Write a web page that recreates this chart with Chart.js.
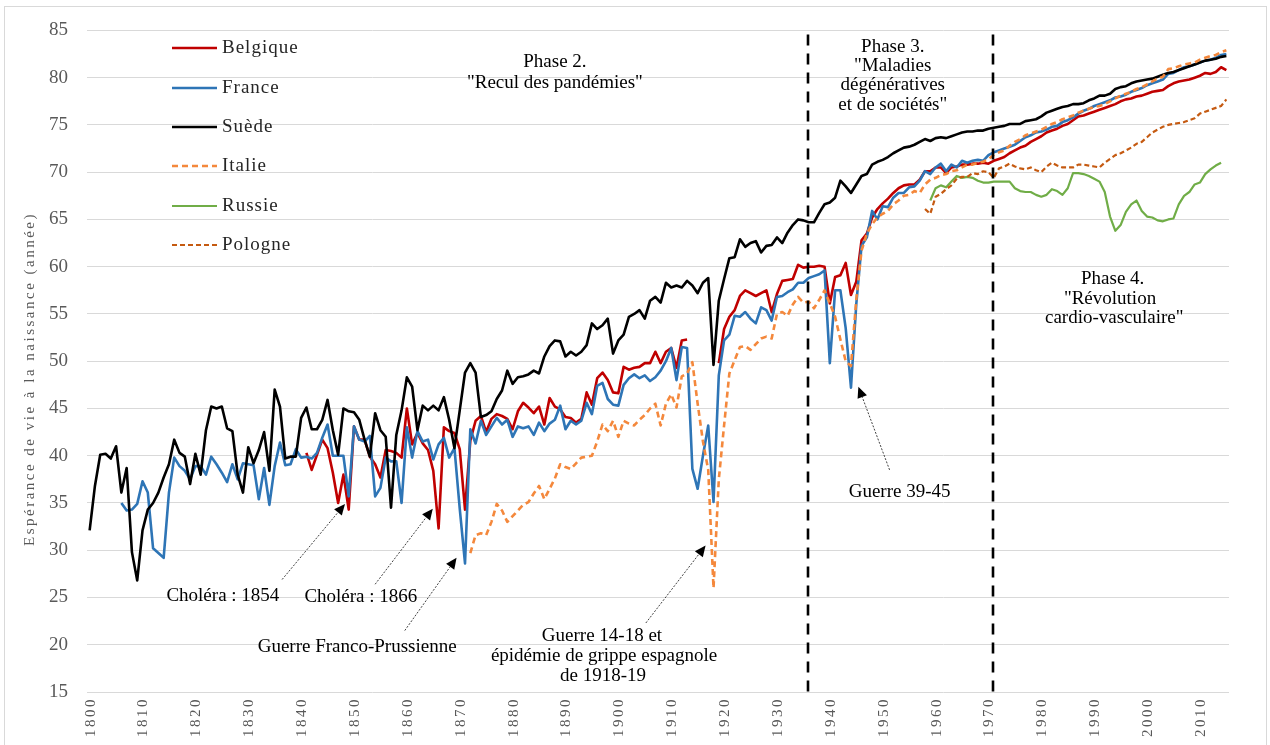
<!DOCTYPE html>
<html><head><meta charset="utf-8">
<script src="https://cdn.jsdelivr.net/npm/chart.js@4.4.1/dist/chart.umd.min.js"></script>
<style>html,body{margin:0;padding:0;background:#fff;}#wrap{width:1270px;height:745px;position:relative;}canvas{display:block;}</style>
</head><body><div id="wrap"><canvas id="c" width="1270" height="745"></canvas></div>
<script>
// ---------- DATA ----------
const decadeTicks = [1800,1810,1820,1830,1840,1850,1860,1870,1880,1890,1900,1910,1920,1930,1940,1950,1960,1970,1980,1990,2000,2010];
const phaseBoundaries = [1935.8, 1970.8];

const suedeStart = 1800;
const suede = [
32.1,36.8,40.1,40.2,39.7,41.0,36.1,38.7,29.8,26.8,
32.1,34.3,35.0,36.1,37.7,39.1,41.7,40.3,39.9,37.0,
40.2,38.0,42.7,45.2,45.0,45.2,42.9,42.6,38.0,36.1,
40.9,39.2,40.6,42.5,38.4,47.0,45.2,39.7,39.9,39.9,
44.0,45.1,42.8,42.8,43.8,45.9,42.7,40.1,45.0,44.7,
44.6,43.8,41.7,39.9,44.5,42.7,42.0,34.5,42.2,44.8,
48.3,47.3,42.7,45.3,44.8,45.3,44.8,46.2,43.8,40.8,
44.8,48.8,49.8,48.8,44.1,44.3,44.7,46.0,46.9,49.0,
47.6,48.3,48.4,48.6,49.0,48.7,50.5,51.6,52.2,52.1,
50.5,51.0,50.6,51.0,51.7,54.0,53.4,53.8,54.5,50.8,
52.2,52.8,54.7,55.0,55.4,54.5,56.4,56.8,56.2,58.3,
57.8,58.0,57.8,58.5,58.0,57.2,58.3,58.8,49.6,56.4,
58.7,60.9,61.0,62.9,62.1,62.5,62.7,61.5,62.2,62.3,
63.1,62.5,63.6,64.4,65.0,64.9,64.7,64.7,65.7,66.6,
66.8,67.3,69.1,68.5,67.8,68.7,69.6,69.8,70.8,71.1,
71.3,71.6,72.0,72.3,72.6,72.7,72.9,73.2,73.5,73.3,
73.6,73.7,73.6,73.8,74.0,74.2,74.3,74.3,74.4,74.4,
74.6,74.7,74.8,74.9,75.1,75.1,75.1,75.4,75.5,75.6,
75.9,76.3,76.5,76.7,76.9,77.0,77.2,77.2,77.3,77.6,
77.8,78.1,78.1,78.3,78.8,79.0,79.1,79.4,79.6,79.7,
79.8,79.9,80.1,80.3,80.5,80.6,80.8,81.0,81.2,81.4,
81.6,81.8,81.9,82.0,82.2,82.3];

const franceStart = 1806;
const france = [
35.0,34.2,34.3,34.9,
37.3,36.1,30.2,29.7,29.2,36.1,39.8,38.9,38.4,37.5,
38.9,38.9,38.0,39.9,39.1,38.2,37.2,39.1,37.5,39.2,
39.1,39.0,35.4,38.7,34.8,38.9,41.4,39.0,39.1,40.7,
39.8,39.9,39.7,40.3,41.9,43.3,40.0,40.0,40.0,35.7,
43.1,41.7,41.5,42.1,35.7,36.6,39.8,39.4,39.4,35.0,
43.0,39.8,42.6,41.5,41.7,39.6,41.2,41.9,39.8,40.8,
34.4,28.6,42.8,41.3,43.7,42.2,43.1,44.0,43.3,43.8,
42.0,43.1,42.9,43.1,42.2,43.5,42.6,43.4,43.8,45.3,
42.8,43.7,43.3,43.7,45.6,44.4,47.4,47.7,46.0,45.4,
45.3,47.5,48.2,48.6,48.2,48.5,47.9,48.3,49.0,50.0,
51.4,48.0,51.5,51.4,38.6,36.5,40.0,43.2,35.1,48.5,
52.2,52.8,54.8,54.7,55.2,54.5,54.0,55.7,55.4,54.3,
56.8,56.9,57.3,57.6,58.3,58.3,58.8,59.0,59.2,59.6,
49.8,57.5,57.5,53.5,47.2,56.0,62.2,63.1,65.9,65.0,
66.4,66.3,67.3,67.8,67.8,68.4,68.5,69.1,70.1,69.8,
70.5,70.9,70.1,70.8,70.5,71.2,71.0,71.2,71.3,71.2,
71.8,72.1,72.3,72.5,72.7,72.9,73.3,73.7,73.9,74.2,
74.3,74.5,74.8,74.9,75.3,75.5,75.8,76.2,76.5,76.7,
77.0,77.2,77.4,77.6,77.9,78.0,78.2,78.5,78.7,78.9,
79.2,79.4,79.6,79.8,80.4,80.5,80.8,81.1,81.2,81.4,
81.6,81.8,81.9,82.1,82.4,82.5];

const belgiqueStart = 1841;
const belgique = [
40.3,38.5,40.1,41.7,40.8,38.2,35.0,38.0,34.3,
43.1,41.7,41.7,39.9,39.1,37.7,40.6,40.5,40.3,39.8,
45.0,41.2,42.4,41.3,40.6,38.4,32.3,43.0,42.6,42.4,
40.7,34.3,41.6,43.7,44.2,42.5,43.9,44.4,44.2,43.9,
42.8,44.7,45.6,45.1,44.5,45.2,43.3,46.1,45.2,44.9,
44.1,44.0,43.5,43.9,46.7,45.4,48.2,48.8,48.0,46.7,
46.6,49.4,49.1,49.3,49.4,49.8,49.8,51.0,49.8,51.0,
51.4,49.3,52.2,52.3,null,null,null,null,null,49.8,
53.4,54.7,55.4,56.9,57.5,57.2,56.9,57.2,57.5,55.2,
57.1,58.5,58.6,58.7,60.2,59.9,60.0,60.0,60.1,60.0,
56.1,58.9,59.1,60.4,57.0,58.4,62.8,63.5,65.2,66.1,
66.7,67.2,67.8,68.3,68.6,68.7,68.7,69.2,70.1,70.1,
70.5,70.5,69.9,70.5,70.6,70.8,70.8,70.9,70.9,71.0,
70.9,71.2,71.4,71.6,72.0,72.3,72.6,72.8,73.2,73.5,
73.8,74.2,74.4,74.6,74.9,75.1,75.5,75.9,76.0,76.2,
76.4,76.6,76.8,77.0,77.2,77.5,77.7,77.8,78.0,78.1,
78.3,78.5,78.6,78.7,79.1,79.4,79.6,79.7,79.8,80.0,
80.2,80.5,80.4,80.6,81.1,80.8];

const italieStart = 1872;
const italie = [
29.7,31.6,31.8,31.6,33.0,34.9,34.2,33.0,
33.6,34.2,34.8,35.1,36.0,36.8,35.4,36.5,37.6,39.1,
38.8,38.6,39.2,39.8,39.9,40.0,41.5,43.3,42.6,43.7,
42.0,43.7,43.4,43.2,43.8,44.3,45.0,45.5,43.2,45.5,
46.5,45.1,48.4,48.7,49.9,45.5,41.5,38.5,26.0,37.5,
43.2,48.7,50.1,51.5,51.6,51.2,51.8,52.4,52.6,52.4,
55.0,55.2,54.8,56.0,56.8,56.2,56.3,55.6,56.5,57.5,
56.1,54.7,52.3,50.0,49.5,56.5,61.7,63.5,64.5,65.2,
65.6,65.9,66.6,67.0,67.5,67.6,68.0,67.8,68.7,69.2,
69.4,69.7,69.8,70.1,70.2,70.5,70.8,70.8,71.0,71.1,
71.4,71.8,72.1,72.3,72.8,73.2,73.5,73.9,74.1,74.3,
74.5,74.8,75.1,75.3,75.6,75.8,76.0,76.3,76.5,76.7,
76.9,77.0,77.2,77.5,77.8,78.1,78.3,78.5,78.8,79.0,
79.3,79.6,79.9,80.1,80.9,81.0,81.2,81.4,81.5,81.6,
81.9,82.1,82.3,82.4,82.7,82.9];

const russieStart = 1959;
const russie = [
67.0,68.3,68.6,68.4,69.0,69.6,69.4,69.5,69.4,69.1,
68.9,68.9,69.0,69.0,69.0,69.0,68.3,68.0,67.9,67.9,
67.6,67.4,67.6,68.2,68.0,67.6,68.3,69.9,69.9,69.8,
69.6,69.3,69.0,67.9,65.3,63.8,64.4,65.8,66.6,67.0,
65.9,65.3,65.2,64.9,64.8,65.0,65.1,66.6,67.5,67.9,
68.7,68.9,69.8,70.3,70.7,71.0];

const pologneStart = 1958;
const pologne = [
66.1,65.6,67.4,67.7,68.2,68.6,69.3,69.5,69.5,69.9,
69.8,70.1,70.0,69.4,70.4,70.6,70.9,70.6,70.4,70.3,
70.5,70.2,70.0,70.6,71.0,70.7,70.5,70.5,70.5,70.8,
70.8,70.7,70.6,70.5,71.0,71.4,71.8,72.0,72.3,72.6,
73.0,73.2,73.7,74.2,74.5,74.8,75.0,75.1,75.2,75.3,
75.5,75.7,76.2,76.4,76.6,76.8,77.0,77.7];

// ---------- TEXT / ANNOTATIONS (positions in data units) ----------
const SERIF = '"Liberation Serif","Times New Roman",serif';
const textNotes = [
  {t:'Phase 2.', x:1888.0, y:81.65},
  {t:'"Recul des pandémies"', x:1888.0, y:79.45},
  {t:'Phase 3.', x:1951.9, y:83.2},
  {t:'"Maladies', x:1951.9, y:81.2},
  {t:'dégénératives', x:1951.9, y:79.2},
  {t:'et de sociétés"', x:1951.9, y:77.1},
  {t:'Phase 4.', x:1993.5, y:58.7},
  {t:'"Révolution', x:1993.0, y:56.6},
  {t:'cardio-vasculaire"', x:1993.8, y:54.6},
  {t:'Choléra : 1854', x:1825.2, y:25.2},
  {t:'Choléra : 1866', x:1851.3, y:25.0},
  {t:'Guerre Franco-Prussienne', x:1850.6, y:19.8},
  {t:'Guerre 14-18 et', x:1896.9, y:20.9},
  {t:'épidémie de grippe espagnole', x:1897.3, y:18.8},
  {t:'de 1918-19', x:1897.1, y:16.7},
  {t:'Guerre 39-45', x:1953.2, y:36.2}
];
const arrows = [
  {x0:1836.4, y0:26.9, x1:1848.3, y1:34.9},
  {x0:1854.0, y0:26.4, x1:1864.9, y1:34.4},
  {x0:1859.6, y0:21.5, x1:1869.4, y1:29.2},
  {x0:1905.2, y0:22.3, x1:1916.5, y1:30.5},
  {x0:1951.3, y0:38.5, x1:1945.4, y1:47.3}
];

function pts(start, arr){ return arr.map((v,i)=>({x:start+i, y:v})); }

const datasets = [
  {label:'Belgique', data:pts(belgiqueStart, belgique), borderColor:'#C00000', borderWidth:2.6, order:5},
  {label:'France', data:pts(franceStart, france), borderColor:'#2E75B6', borderWidth:2.6, order:4},
  {label:'Suède', data:pts(suedeStart, suede), borderColor:'#000000', borderWidth:2.6, order:3},
  {label:'Italie', data:pts(italieStart, italie), borderColor:'#F4883C', borderWidth:2.6, borderDash:[6,4], order:2},
  {label:'Russie', data:pts(russieStart, russie), borderColor:'#70AD47', borderWidth:2.2, order:1},
  {label:'Pologne', data:pts(pologneStart, pologne), borderColor:'#C55A11', borderWidth:2.2, borderDash:[5,3], order:0}
];
datasets.forEach(d=>{d.pointRadius=0; d.tension=0; d.spanGaps=false; d.fill=false; d.borderJoinStyle='round';});

const overlay = {
  id:'overlay',
  afterDatasetsDraw(chart){
    const {ctx, chartArea:ca} = chart; const xs = chart.scales.x, ys = chart.scales.y;
    ctx.save();
    ctx.strokeStyle='#000'; ctx.lineWidth=2.6; ctx.setLineDash([11,8]);
    phaseBoundaries.forEach(yr=>{ const px=Math.round(xs.getPixelForValue(yr)); ctx.beginPath(); ctx.moveTo(px, ca.top+4); ctx.lineTo(px, ca.bottom); ctx.stroke(); });
    ctx.restore();
    arrows.forEach(a=>{
      const x0=xs.getPixelForValue(a.x0), y0=ys.getPixelForValue(a.y0), x1=xs.getPixelForValue(a.x1), y1=ys.getPixelForValue(a.y1);
      const ang=Math.atan2(y1-y0, x1-x0), L=11, W=5;
      const bx=x1-L*Math.cos(ang), by=y1-L*Math.sin(ang);
      ctx.save();
      ctx.strokeStyle='#404040'; ctx.lineWidth=1; ctx.setLineDash([2,1.5]);
      ctx.beginPath(); ctx.moveTo(x0,y0); ctx.lineTo(bx,by); ctx.stroke();
      ctx.setLineDash([]); ctx.fillStyle='#000';
      ctx.beginPath(); ctx.moveTo(x1,y1);
      ctx.lineTo(bx+W*Math.sin(ang), by-W*Math.cos(ang));
      ctx.lineTo(bx-W*Math.sin(ang), by+W*Math.cos(ang));
      ctx.closePath(); ctx.fill();
      ctx.restore();
    });
    ctx.save();
    ctx.font='19px '+SERIF; ctx.fillStyle='#000'; ctx.textAlign='center'; ctx.textBaseline='middle';
    textNotes.forEach(n=>{ ctx.fillText(n.t, xs.getPixelForValue(n.x), ys.getPixelForValue(n.y)); });
    ctx.restore();
  },
  afterDraw(chart){
    const {ctx, chartArea:ca} = chart; const xs = chart.scales.x;
    ctx.save();
    ctx.font='15px '+SERIF; ctx.fillStyle='#595959'; ctx.letterSpacing='2.5px';
    ctx.textAlign='right'; ctx.textBaseline='middle';
    decadeTicks.forEach(yr=>{ const px=xs.getPixelForValue(yr); ctx.save(); ctx.translate(px+1, ca.bottom+5); ctx.rotate(-Math.PI/2); ctx.fillText(String(yr), 0, 0); ctx.restore(); });
    ctx.restore();
    ctx.save();
    ctx.font='15px '+SERIF; ctx.fillStyle='#595959'; ctx.letterSpacing='2.5px';
    ctx.textAlign='center'; ctx.textBaseline='middle';
    ctx.translate(30, 379); ctx.rotate(-Math.PI/2); ctx.fillText('Espérance de vie à la naissance (année)', 0, 0);
    ctx.restore();
    ctx.save();
    ctx.font='19px '+SERIF; ctx.fillStyle='#262626'; ctx.letterSpacing='1px';
    ctx.textAlign='left'; ctx.textBaseline='middle';
    const rows=[48,88,127,166,206,245];
    chart.data.datasets.forEach((d,i)=>{
      const yy=rows[i];
      ctx.save(); ctx.strokeStyle=d.borderColor; ctx.lineWidth=d.borderWidth; ctx.setLineDash(d.borderDash||[]);
      ctx.beginPath(); ctx.moveTo(172, yy); ctx.lineTo(217, yy); ctx.stroke(); ctx.restore();
      ctx.fillText(d.label, 222, yy);
    });
    ctx.restore();
    ctx.save(); ctx.strokeStyle='#d9d9d9'; ctx.lineWidth=1; ctx.strokeRect(4.5, 6.5, 1262, 760); ctx.restore();
  }
};

new Chart(document.getElementById('c'), {
  type:'line',
  data:{datasets},
  options:{
    responsive:false, animation:false, devicePixelRatio:1,
    layout:{padding:{top:24, right:41, bottom:0, left:0}},
    plugins:{legend:{display:false}, tooltip:{enabled:false}},
    scales:{
      x:{type:'linear', min:1799.5, max:2015.5,
         grid:{display:false}, border:{display:false}, ticks:{display:false},
         afterFit(s){ s.height=53; }},
      y:{min:15, max:85,
         ticks:{stepSize:5, color:'#595959', font:{family:SERIF, size:19}, padding:19},
         grid:{color:'#d9d9d9', lineWidth:1, drawTicks:false},
         border:{display:false},
         afterFit(s){ s.width=87; }}
    }
  },
  plugins:[overlay]
});
</script></body></html>
